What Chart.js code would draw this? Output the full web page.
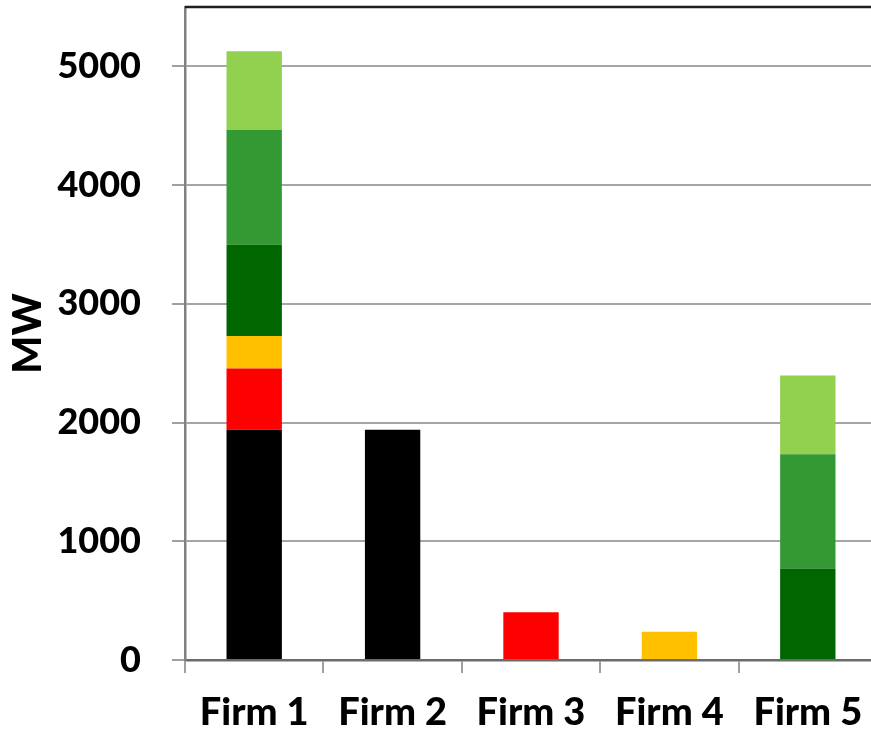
<!DOCTYPE html>
<html>
<head>
<meta charset="utf-8">
<script src="https://cdn.jsdelivr.net/npm/chart.js@4/dist/chart.umd.min.js"></script>
<style>
  html, body { margin: 0; padding: 0; background: #fff; }
  #wrap { width: 871px; height: 732px; overflow: hidden; position: relative; }
  canvas { display: block; }
</style>
</head>
<body>
<div id="wrap"><canvas id="c" width="890" height="732"></canvas></div>
<script>
// Capacity by firm, stacked by technology block (MW)
const firms = ['Firm 1', 'Firm 2', 'Firm 3', 'Firm 4', 'Firm 5'];
const blackBlock      = [1940, 1940, null, null, null];
const redBlock        = [515, null, 403, null, null];
const yellowBlock     = [273, null, null, 237, null];
const darkGreenBlock  = [770, null, null, null, 771];
const midGreenBlock   = [968, null, null, null, 962];
const lightGreenBlock = [661, null, null, null, 663];
const yTicks = [0, 1000, 2000, 3000, 4000, 5000];
const yMax = 5500;

const series = [
  { label: 'Black', data: blackBlock, color: '#000000' },
  { label: 'Red', data: redBlock, color: '#FF0000' },
  { label: 'Yellow', data: yellowBlock, color: '#FFC000' },
  { label: 'Dark green', data: darkGreenBlock, color: '#006600' },
  { label: 'Green', data: midGreenBlock, color: '#339933' },
  { label: 'Light green', data: lightGreenBlock, color: '#92D050' }
];

// Dark frame line along the top of the plot area
const topFrame = {
  id: 'topFrame',
  afterDraw(chart) {
    const { ctx, chartArea } = chart;
    ctx.save();
    ctx.strokeStyle = '#1e1e1e';
    ctx.lineWidth = 2.5;
    ctx.beginPath();
    ctx.moveTo(chartArea.left, chartArea.top);
    ctx.lineTo(chartArea.right + 20, chartArea.top);
    ctx.stroke();
    ctx.restore();
  }
};

new Chart(document.getElementById('c'), {
  type: 'bar',
  data: {
    labels: firms,
    datasets: series.map(s => ({
      label: s.label,
      data: s.data,
      backgroundColor: s.color,
      borderWidth: 0,
      categoryPercentage: 1,
      barPercentage: 0.4
    }))
  },
  options: {
    responsive: false,
    animation: false,
    layout: { padding: { top: 7, right: 13, left: 0, bottom: 0 } },
    plugins: { legend: { display: false }, tooltip: { enabled: false } },
    scales: {
      x: {
        stacked: true,
        grid: {
          display: true,
          drawOnChartArea: false,
          offset: true,
          tickLength: 13,
          color: '#A0A0A0',
          lineWidth: 2
        },
        border: { display: true, color: '#6b6b6b', width: 2.5 },
        ticks: {
          color: '#000',
          padding: 17,
          maxRotation: 0,
          font: { family: 'Lato', weight: '900', size: 38 }
        },
        afterFit(scale) {
          scale.height = 72;
          scale.paddingLeft = 0;
          scale.paddingRight = 0;
        }
      },
      y: {
        stacked: true,
        min: 0,
        max: yMax,
        afterBuildTicks(scale) {
          scale.ticks = yTicks.map(v => ({ value: v }));
        },
        grid: {
          color: '#A6A6A6',
          lineWidth: 2,
          tickLength: 13,
          tickColor: '#A0A0A0'
        },
        border: { display: true, color: '#808080', width: 2.5 },
        ticks: {
          color: '#000',
          padding: 31,
          callback: v => String(v),
          font: { family: 'Lato', weight: '900', size: 36 }
        },
        title: {
          display: true,
          text: 'MW',
          color: '#000',
          padding: { top: 4, bottom: 0 },
          font: { family: 'Lato', weight: '900', size: 40 }
        },
        afterFit(scale) {
          scale.width = 185;
          scale.paddingTop = 0;
          scale.paddingBottom = 0;
        }
      }
    }
  },
  plugins: [topFrame]
});
</script>
</body>
</html>
